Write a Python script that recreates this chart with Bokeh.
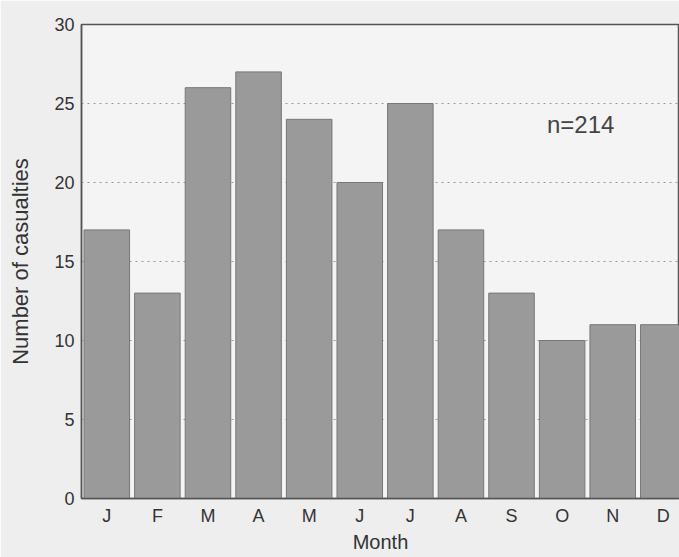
from bokeh.plotting import figure
from bokeh.models import FixedTicker, Range1d, Label
from bokeh.embed import file_html
from bokeh.resources import INLINE

months = ["J", "F", "M", "A", "M", "J", "J", "A", "S", "O", "N", "D"]
casualties = [17, 13, 26, 27, 24, 20, 25, 17, 13, 10, 11, 11]
y_ticks = [0, 5, 10, 15, 20, 25, 30]
annotation = "n=214"

xpos = [i + 0.5 for i in range(len(months))]

p = figure(width=679, height=557, output_backend="svg", toolbar_location=None,
           x_range=Range1d(0, 11.82), y_range=Range1d(0, 30),
           min_border_left=81, min_border_right=0, min_border_top=24, min_border_bottom=59)

p.background_fill_color = "#f4f4f4"
p.border_fill_color = "#eeeeee"
p.outline_line_color = "#555555"
p.outline_line_width = 1.5

p.vbar(x=xpos, top=casualties, width=0.9, fill_color="#9a9a9a", line_color="#777777", line_width=1)

p.xaxis.ticker = FixedTicker(ticks=xpos)
p.xaxis.major_label_overrides = {x: m for x, m in zip(xpos, months)}
p.yaxis.ticker = FixedTicker(ticks=y_ticks)

for ax in (p.xaxis[0], p.yaxis[0]):
    ax.major_tick_line_color = None
    ax.minor_tick_line_color = None
    ax.major_tick_out = 0
    ax.major_tick_in = 0
    ax.axis_line_color = "#555555"
    ax.axis_line_width = 1.5
    ax.major_label_text_font = "Liberation Sans"
    ax.major_label_text_font_size = "18px"
    ax.major_label_text_color = "#333333"
    ax.axis_label_text_font = "Liberation Sans"
    ax.axis_label_text_font_style = "normal"
    ax.axis_label_text_color = "#333333"

p.xaxis.major_label_standoff = 7
p.yaxis.major_label_standoff = 7
p.xaxis.axis_label = "Month"
p.xaxis.axis_label_text_font_size = "20px"
p.xaxis.axis_label_standoff = 2
p.yaxis.axis_label = "Number of casualties"
p.yaxis.axis_label_text_font_size = "22px"
p.yaxis.axis_label_standoff = 18

p.xgrid.grid_line_color = None
p.ygrid.grid_line_color = "#999999"
p.ygrid.grid_line_dash = "2 4"
p.ygrid.grid_line_width = 1

p.add_layout(Label(x=9.2, y=23.7, text=annotation, text_font="Liberation Sans",
                   text_font_size="24px", text_color="#444444", text_baseline="middle"))

open("out.html", "w").write(file_html(p, INLINE))
